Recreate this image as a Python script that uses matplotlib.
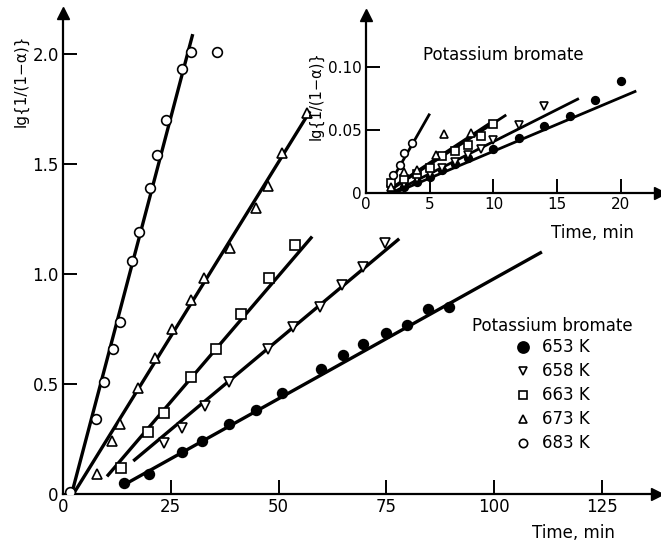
import matplotlib
matplotlib.use("Agg")
import matplotlib.pyplot as plt

# main plot: points (time, lg{1/(1-a)}) per temperature
t653 = [14.2, 20.0, 27.6, 32.3, 38.5, 44.7, 50.8, 59.9, 65.0, 69.6, 74.9, 79.8, 84.7, 89.6]
y653 = [0.05, 0.09, 0.19, 0.24, 0.32, 0.38, 0.46, 0.57, 0.63, 0.68, 0.73, 0.77, 0.84, 0.85]
t658 = [23.4, 27.6, 32.9, 38.5, 47.6, 53.4, 59.6, 64.7, 69.6, 74.7]
y658 = [0.23, 0.30, 0.40, 0.51, 0.66, 0.76, 0.85, 0.95, 1.03, 1.14]
t663 = [13.5, 19.7, 23.4, 29.7, 35.5, 41.3, 47.8, 53.8]
y663 = [0.12, 0.28, 0.37, 0.53, 0.66, 0.82, 0.98, 1.13]
t673 = [7.8, 11.4, 13.2, 17.4, 21.3, 25.3, 29.7, 32.7, 38.7, 44.7, 47.5, 50.8, 56.6]
y673 = [0.09, 0.24, 0.32, 0.48, 0.62, 0.75, 0.88, 0.98, 1.12, 1.30, 1.40, 1.55, 1.73]
t683 = [1.6, 7.6, 9.5, 11.6, 13.2, 16.0, 17.7, 20.2, 21.8, 23.9, 27.6, 29.7, 35.7]
y683 = [0.01, 0.34, 0.51, 0.66, 0.78, 1.06, 1.19, 1.39, 1.54, 1.70, 1.93, 2.01, 2.01]

# fitted straight lines: (t_start, t_end), (y_start, y_end)
fit_t = {653: (14.0, 111.1), 658: (16.3, 78.0), 663: (10.2, 57.8), 673: (2.4, 57.3), 683: (2.0, 30.1)}
fit_y = {653: (0.04, 1.10), 658: (0.15, 1.16), 663: (0.08, 1.17), 673: (0.0, 1.74), 683: (0.0, 2.09)}

# inset: first minutes
it653 = [2, 3, 4, 5, 6, 7, 8, 10, 12, 14, 16, 18, 20]
iy653 = [0.002, 0.005, 0.009, 0.013, 0.018, 0.023, 0.028, 0.035, 0.044, 0.053, 0.061, 0.074, 0.089]
it658 = [2, 3, 4, 5, 6, 7, 8, 9, 10, 12, 14]
iy658 = [0.003, 0.007, 0.011, 0.015, 0.020, 0.025, 0.030, 0.035, 0.042, 0.054, 0.069]
it663 = [2, 3, 4, 5, 6, 7, 8, 9, 10]
iy663 = [0.008, 0.011, 0.015, 0.020, 0.029, 0.033, 0.038, 0.045, 0.055]
it673 = [2, 3, 4, 5.5, 6.1, 8.2]
iy673 = [0.005, 0.017, 0.018, 0.030, 0.047, 0.048]
it683 = [2.1, 2.7, 3.0, 3.6]
iy683 = [0.014, 0.022, 0.032, 0.040]

ifit_t = {653: (2.0, 21.2), 658: (2.0, 16.7), 663: (2.0, 11.0), 673: (2.0, 9.8), 683: (1.9, 5.0)}
ifit_y = {653: (-0.001, 0.081), 658: (0.0, 0.075), 663: (0.003, 0.062), 673: (0.004, 0.056), 683: (0.008, 0.063)}

temps = [653, 658, 663, 673, 683]
markers = {653: "o", 658: "v", 663: "s", 673: "^", 683: "o"}
filled = {653: True, 658: False, 663: False, 673: False, 683: False}
main_data = {653: (t653, y653), 658: (t658, y658), 663: (t663, y663), 673: (t673, y673), 683: (t683, y683)}
inset_data = {653: (it653, iy653), 658: (it658, iy658), 663: (it663, iy663), 673: (it673, iy673), 683: (it683, iy683)}

plt.rcParams["font.family"] = "DejaVu Sans"
W, H = 661, 547
fig = plt.figure(figsize=(W / 100, H / 100), dpi=100)


def axes_px(x0, y_bottom, x1, y_top):
    return fig.add_axes([x0 / W, (H - y_bottom) / H, (x1 - x0) / W, (y_bottom - y_top) / H])


def style_axes(ax, tick_len):
    for s in ("top", "right"):
        ax.spines[s].set_visible(False)
    for s in ("left", "bottom"):
        ax.spines[s].set_linewidth(1.6)
    ax.patch.set_alpha(0)
    ax.tick_params(direction="in", length=tick_len, width=1.4, labelsize=12, pad=3)
    ax.plot([1], [0], ">", color="k", ms=8, transform=ax.transAxes, clip_on=False)
    ax.plot([0], [1], "^", color="k", ms=8, transform=ax.transAxes, clip_on=False)


def draw(ax, data, fits_t, fits_y, ms, lw):
    for T in temps:
        ax.plot(fits_t[T], fits_y[T], "-", color="k", lw=lw, solid_capstyle="butt")
        x, y = data[T]
        ax.plot(x, y, markers[T], ms=ms, mew=1.2, mec="k",
                mfc="k" if filled[T] else "white", linestyle="none", zorder=3)


ax = axes_px(63, 494, 657, 13)
ax.set_xlim(0, 137.8)
ax.set_ylim(0, 2.186)
style_axes(ax, 10)
ax.set_xticks([0, 25, 50, 75, 100, 125])
ax.set_yticks([0, 0.5, 1.0, 1.5, 2.0])
ax.set_yticklabels(["0", "0.5", "1.0", "1.5", "2.0"])
draw(ax, main_data, fit_t, fit_y, 7, 2.4)
ax.text(-0.07, 0.86, "lg{1/(1−α)}", rotation=90, transform=ax.transAxes,
        ha="center", va="center", fontsize=11)
fig.text(573 / W, 1 - 533 / H, "Time, min", ha="center", va="center", fontsize=12)

# legend drawn as text
fig.text(552 / W, 1 - 326 / H, "Potassium bromate", ha="center", va="center", fontsize=12)
for i, T in enumerate(temps):
    yy = 1 - (347 + i * 24) / H
    fig.lines.append(plt.Line2D([523 / W], [yy], marker=markers[T], ms=6 if T != 653 else 8,
                                mew=1.2, mec="k", mfc="k" if filled[T] else "white",
                                linestyle="none", transform=fig.transFigure))
    fig.text(542 / W, yy, f"{T} K", ha="left", va="center", fontsize=12)

ins = axes_px(366, 193, 660, 15)
ins.set_xlim(0, 23.06)
ins.set_ylim(0, 0.1413)
style_axes(ins, 10)
ins.tick_params(labelsize=11)
ins.set_xticks([0, 5, 10, 15, 20])
ins.set_yticks([0, 0.05, 0.10])
ins.set_yticklabels(["0", "0.05", "0.10"])
draw(ins, inset_data, ifit_t, ifit_y, 5.5, 2.0)
fig.text(316 / W, 1 - 96 / H, "lg{1/(1−α)}", rotation=90, ha="center", va="center", fontsize=10.5)
fig.text(503 / W, 1 - 55 / H, "Potassium bromate", ha="center", va="center", fontsize=12)
fig.text(592 / W, 1 - 233 / H, "Time, min", ha="center", va="center", fontsize=12)

fig.savefig("out.png", dpi=100)
